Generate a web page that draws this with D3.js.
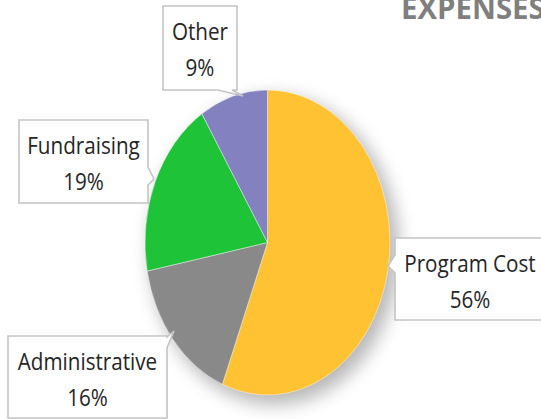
<!DOCTYPE html>
<html>
<head>
<meta charset="utf-8">
<script src="https://cdn.jsdelivr.net/npm/d3@7"></script>
<style>
  html, body { margin: 0; padding: 0; background: #ffffff; overflow: hidden; }
  svg { display: block; }
</style>
</head>
<body>
<svg id="chart" width="541" height="419"></svg>
<script>
// ---- data ----
const categories = ["Program Cost", "Administrative", "Fundraising", "Other"];
const values = [56, 16, 19, 9];
const colors = ["#fec232", "#898989", "#1ec338", "#8381c0"];
const title = "EXPENSES";

// ---- layout (not data) ----
const W = 541, H = 419;
const cx = 267.5, cy = 242.5, rx = 122.5, ry = 152.5;
const fontFamily = "'Open Sans', 'Liberation Sans', sans-serif";
const labelFontSize = 24;
const condense = 0.86;

// box: x, y, w, h ; pointer: side, base start, base end, tip
const labelLayout = {
  "Other":          { x: 163, y: 6,   w: 74,  h: 84, side: "bottom", b0: 218, b1: 232, tip: [243, 96] },
  "Fundraising":    { x: 19,  y: 120, w: 129, h: 83, side: "right",  b0: 167, b1: 185, tip: [154, 179] },
  "Administrative": { x: 8,   y: 336, w: 159, h: 82, side: "right",  b0: 337, b1: 348, tip: [174, 331] },
  "Program Cost":   { x: 395, y: 238, w: 160, h: 82, side: "left",   b0: 255, b1: 273, tip: [388, 266], cx: 470 }
};

const svg = d3.select("#chart");

const defs = svg.append("defs");
const f = defs.append("filter").attr("id", "shadow")
  .attr("x", "-30%").attr("y", "-30%").attr("width", "160%").attr("height", "160%");
f.append("feGaussianBlur").attr("stdDeviation", 9);

const color = d3.scaleOrdinal().domain(categories).range(colors);

const pie = d3.pie().sort(null).value(d => d.value).startAngle(0).endAngle(2 * Math.PI);
const data = categories.map((c, i) => ({ name: c, value: values[i] }));
const arcs = pie(data);
const arc = d3.arc().innerRadius(0).outerRadius(rx);

// shadow
svg.append("ellipse")
  .attr("cx", cx + 7).attr("cy", cy + 8)
  .attr("rx", rx + 2).attr("ry", ry + 2)
  .attr("fill", "#000").attr("opacity", 0.28)
  .attr("filter", "url(#shadow)");

const g = svg.append("g")
  .attr("transform", `translate(${cx},${cy}) scale(1,${ry / rx})`);

g.selectAll("path.slice")
  .data(arcs)
  .join("path")
  .attr("class", "slice")
  .attr("d", arc)
  .attr("fill", d => color(d.data.name))
  .attr("stroke", "#ffffff")
  .attr("stroke-width", 0.4);

// labels
function boxPath(L) {
  const x0 = L.x, y0 = L.y, x1 = L.x + L.w, y1 = L.y + L.h;
  const [tx, ty] = L.tip;
  let p = `M${x0},${y0}`;
  p += `L${x1},${y0}`;
  if (L.side === "right") p += `L${x1},${L.b0}L${tx},${ty}L${x1},${L.b1}`;
  p += `L${x1},${y1}`;
  if (L.side === "bottom") p += `L${L.b1},${y1}L${tx},${ty}L${L.b0},${y1}`;
  p += `L${x0},${y1}`;
  if (L.side === "left") p += `L${x0},${L.b1}L${tx},${ty}L${x0},${L.b0}`;
  p += "Z";
  return p;
}

const labels = svg.append("g").selectAll("g.label")
  .data(arcs)
  .join("g")
  .attr("class", "label");

labels.append("path")
  .attr("d", d => boxPath(labelLayout[d.data.name]))
  .attr("fill", "#ffffff")
  .attr("stroke", "#c4c4c4")
  .attr("stroke-width", 1.6)
  .attr("stroke-linejoin", "miter");

function addText(sel, textFn, line) {
  sel.append("text")
    .attr("x", d => {
      const L = labelLayout[d.data.name];
      return L.cx !== undefined ? L.cx : L.x + L.w / 2;
    })
    .attr("y", d => labelLayout[d.data.name].y + (line === 0 ? 34 : 70))
    .attr("text-anchor", "middle")
    .attr("font-family", fontFamily)
    .attr("font-size", labelFontSize)
    .attr("fill", "#262626")
    .text(textFn)
    .each(function() {
      const len = this.getComputedTextLength();
      d3.select(this).attr("textLength", len * condense).attr("lengthAdjust", "spacingAndGlyphs");
    });
}
addText(labels, d => d.data.name, 0);
addText(labels, d => d.data.value + "%", 1);

// title
svg.append("text")
  .attr("x", 401).attr("y", 19)
  .attr("font-family", "'Open Sans', 'Liberation Sans', sans-serif")
  .attr("font-weight", "bold")
  .attr("font-size", 30)
  .attr("fill", "#7f7f7f")
  .text(title)
  .each(function() {
    const len = this.getComputedTextLength();
    d3.select(this).attr("textLength", len * 0.98).attr("lengthAdjust", "spacingAndGlyphs");
  });
</script>
</body>
</html>
